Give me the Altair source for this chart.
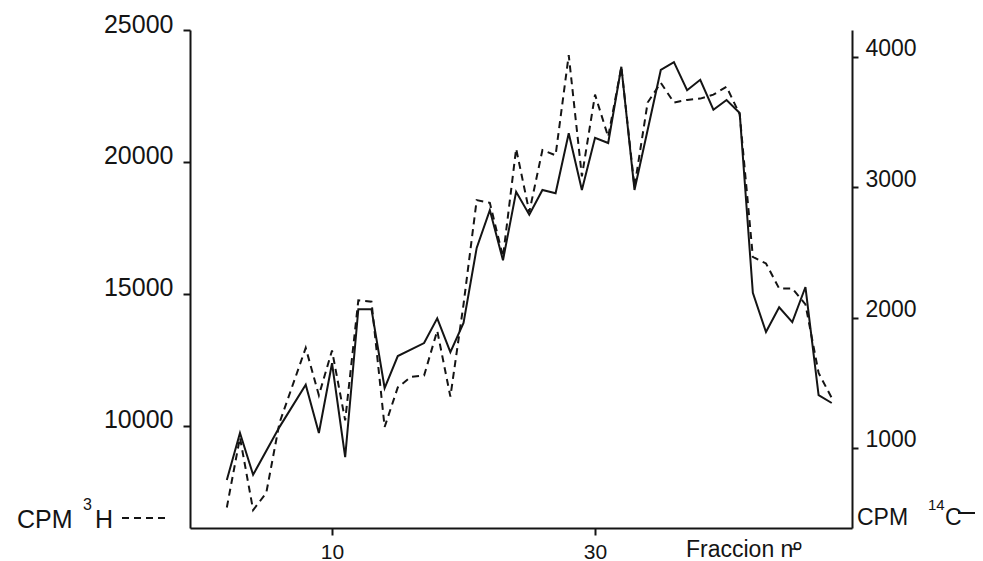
import altair as alt
import pandas as pd

# ---- data ----
# 3H (dashed line, left axis)
frac_h3 = [2, 3, 4, 5, 6, 8, 9, 10, 11, 12, 13, 14, 15, 16, 17, 18, 19, 20, 21, 22,
           23, 24, 25, 26, 27, 28, 29, 30, 31, 32, 33, 34, 35, 36, 37, 38, 39, 40, 41,
           42, 43, 44, 45, 46, 47, 48]
cpm_h3 = [6900, 9550, 6800, 7450, 10100, 12950, 11150, 12850, 10200, 14750, 14700, 9950,
          11450, 11850, 11900, 13600, 11100, 14600, 18550, 18450, 16400, 20500, 18100,
          20450, 20250, 24050, 19450, 22550, 20950, 23600, 19050, 22250, 23000, 22250,
          22350, 22400, 22550, 22850, 21800, 16400, 16150, 15200, 15200, 14600, 12000, 11050]

# 14C (solid line, right axis)
frac_c14 = [2, 3, 4, 6, 8, 9, 10, 11, 12, 13, 14, 15, 17, 18, 19, 20, 21, 22, 23, 24,
            25, 26, 27, 28, 29, 30, 31, 32, 33, 35, 36, 37, 38, 39, 40, 41, 42, 43, 44,
            45, 46, 47, 48]
cpm_c14 = [755, 1115, 795, 1160, 1485, 1115, 1650, 930, 2065, 2065, 1460, 1705, 1805,
           1995, 1735, 1960, 2535, 2825, 2440, 2965, 2790, 2980, 2955, 3415, 2980, 3380,
           3340, 3925, 2980, 3900, 3960, 3745, 3825, 3595, 3670, 3570, 2190, 1890, 2080,
           1965, 2235, 1405, 1345]

x_ticks = [10, 30]
h3_ticks = [10000, 15000, 20000, 25000]
c14_ticks = [1000, 2000, 3000, 4000]

df_h3 = pd.DataFrame({"fraccion": frac_h3, "cpm": cpm_h3})
df_c14 = pd.DataFrame({"fraccion": frac_c14, "cpm": cpm_c14})

FONT = "Liberation Sans"
INK = "#141414"

xscale = alt.Scale(domain=[-0.8, 49.54], nice=False, zero=False)


def xaxis():
    return alt.Axis(values=x_ticks, format="d", title=None, grid=False, domainColor=INK,
                    domainWidth=2, tickColor=INK, tickWidth=2, tickSize=7, labelFont=FONT,
                    labelFontSize=21, labelColor=INK, labelPadding=6, labelFlush=False)


h3 = alt.Chart(df_h3).mark_line(color=INK, strokeWidth=2, strokeDash=[7, 5]).encode(
    x=alt.X("fraccion:Q", scale=xscale, axis=xaxis()),
    y=alt.Y("cpm:Q", scale=alt.Scale(domain=[6121, 25000], nice=False, zero=False),
            axis=alt.Axis(orient="left", values=h3_ticks, format="d", title=None, grid=False,
                          domainColor=INK, domainWidth=2, tickColor=INK, tickWidth=2,
                          tickSize=7, labelFont=FONT, labelFontSize=25, labelColor=INK,
                          labelPadding=10, labelBaseline="alphabetic", labelOffset=2,
                          labelFlush=False)),
)

c14 = alt.Chart(df_c14).mark_line(color=INK, strokeWidth=2).encode(
    x=alt.X("fraccion:Q", scale=xscale, axis=xaxis()),
    y=alt.Y("cpm:Q", scale=alt.Scale(domain=[386, 4207], nice=False, zero=False),
            axis=alt.Axis(orient="right", values=c14_ticks, format="d", title=None,
                          grid=False, domainColor=INK, domainWidth=2, tickColor=INK,
                          tickWidth=2, tickSize=6, labelFont=FONT, labelFontSize=23,
                          labelColor=INK, labelPadding=7, labelBaseline="alphabetic",
                          labelOffset=-1, labelFlush=False)),
)


def label(txt, x, y, size):
    return alt.Chart(pd.DataFrame({"t": [txt]})).mark_text(
        font=FONT, fontSize=size, color=INK, align="left", baseline="alphabetic"
    ).encode(text="t:N", x=alt.value(x), y=alt.value(y))


def sample(x1, x2, y, dash=None, width=2):
    kw = dict(color=INK, strokeWidth=width)
    if dash:
        kw["strokeDash"] = dash
    return alt.Chart(pd.DataFrame({"k": [0]})).mark_rule(**kw).encode(
        x=alt.value(x1), x2=alt.value(x2), y=alt.value(y))


annotations = [
    label("CPM", -173, 498, 25),
    label("3", -107, 480, 16),
    label("H", -95, 498, 25),
    sample(-68, -23, 488, [7, 5]),
    label("CPM", 667, 495, 23),
    label("14", 738, 480, 15),
    label("C", 755, 495, 23),
    sample(768, 800, 483),
    label("Fraccion nº", 496, 527, 23),
    sample(601, 610, 519, None, 1.5),
]

lines = alt.layer(h3, c14).resolve_scale(y="independent")

chart = alt.layer(lines, *annotations).properties(
    width=662, height=498,
    autosize=alt.AutoSizeParams(type="none"),
    padding={"left": 182, "top": 22, "right": 123, "bottom": 33},
    background="white",
).configure_view(stroke=None)

chart.save("out.html", embed_options={"renderer": "svg", "actions": False})
